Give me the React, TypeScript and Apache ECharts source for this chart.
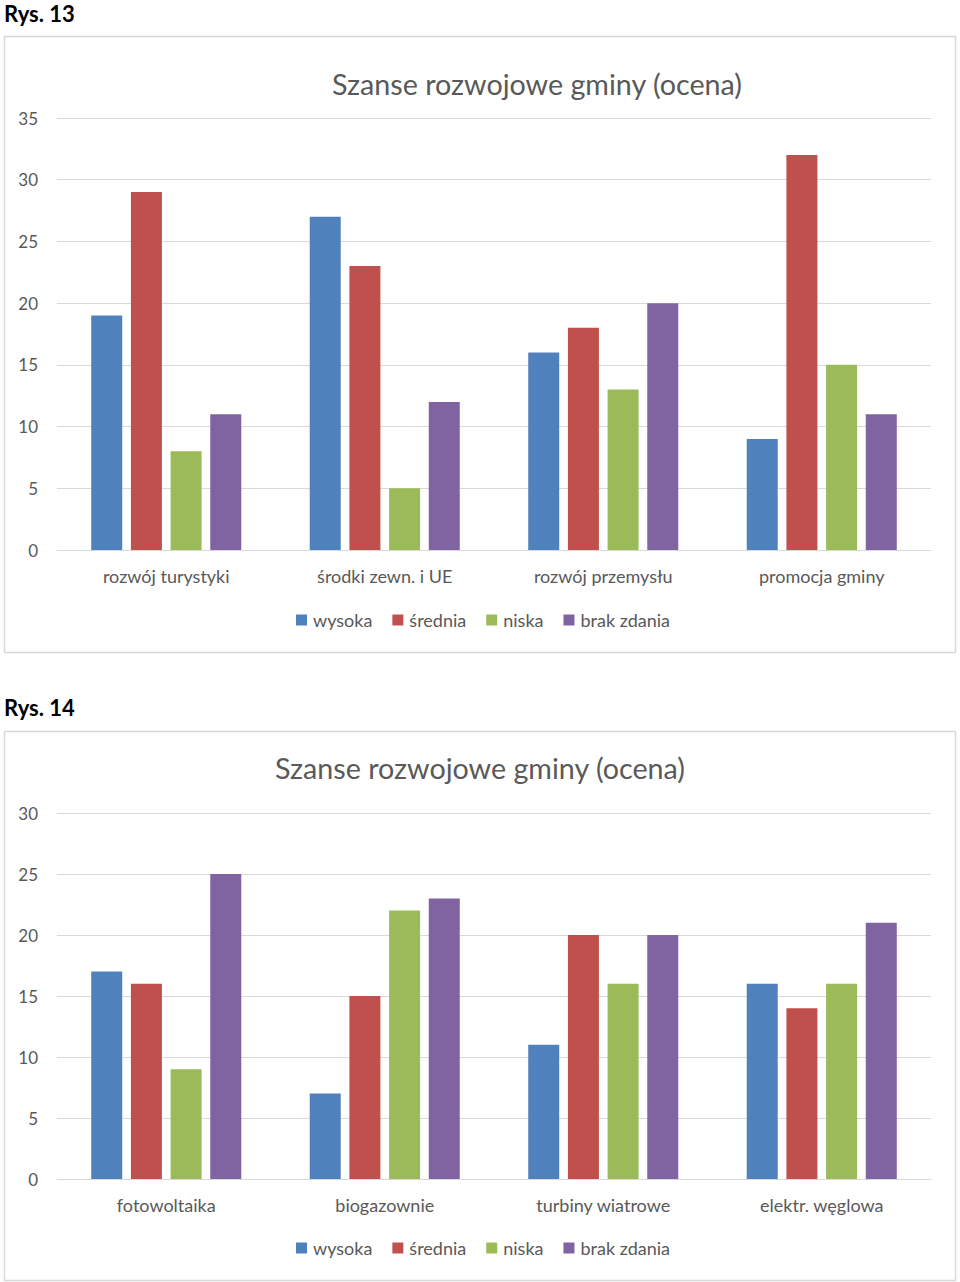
import React, { useEffect, useRef } from "react";
import * as echarts from "echarts";

const seriesNames = ["wysoka", "średnia", "niska", "brak zdania"];
const colors = ["#4F81BD", "#C0504D", "#9BBB59", "#8064A2"];

const categories1 = ["rozwój turystyki", "środki zewn. i UE", "rozwój przemysłu", "promocja gminy"];
const wysoka1 = [19, 27, 16, 9];
const srednia1 = [29, 23, 18, 32];
const niska1 = [8, 5, 13, 15];
const brak1 = [11, 12, 20, 11];

const categories2 = ["fotowoltaika", "biogazownie", "turbiny wiatrowe", "elektr. węglowa"];
const wysoka2 = [17, 7, 11, 16];
const srednia2 = [16, 15, 20, 14];
const niska2 = [9, 22, 16, 16];
const brak2 = [25, 23, 20, 21];

const title = "Szanse rozwojowe gminy (ocena)";
const FONT = "Lato, 'Open Sans', sans-serif";
const GREY = "#595959";

export default function App() {
  const ref = useRef<HTMLDivElement>(null);
  useEffect(() => {
    const chart = echarts.init(ref.current!, null, { renderer: "svg" });
    const data1 = [wysoka1, srednia1, niska1, brak1];
    const data2 = [wysoka2, srednia2, niska2, brak2];
    const mkX = (cats: string[], idx: number) => ({
      type: "category",
      gridIndex: idx,
      data: cats,
      axisLine: { show: true, lineStyle: { color: "#D9D9D9", width: 1 } },
      axisTick: { show: false },
      axisLabel: { color: GREY, fontSize: 18, fontFamily: FONT, margin: 17 },
    });
    const mkY = (max: number, idx: number) => ({
      type: "value",
      gridIndex: idx,
      min: 0,
      max,
      interval: 5,
      axisLine: { show: false },
      axisTick: { show: false },
      splitLine: { lineStyle: { color: "#D9D9D9", width: 1 } },
      axisLabel: { color: GREY, fontSize: 17, fontFamily: FONT, margin: 19 },
    });
    const series: any[] = [];
    data1.forEach((d, i) =>
      series.push({
        type: "bar",
        name: seriesNames[i],
        xAxisIndex: 0,
        yAxisIndex: 0,
        data: d,
        barWidth: 31,
        barGap: "28%",
        itemStyle: { color: colors[i] },
      })
    );
    data2.forEach((d, i) =>
      series.push({
        type: "bar",
        name: seriesNames[i],
        xAxisIndex: 1,
        yAxisIndex: 1,
        data: d,
        barWidth: 31,
        barGap: "28%",
        itemStyle: { color: colors[i] },
      })
    );
    const legendBase = {
      data: seriesNames,
      icon: "rect",
      itemWidth: 11,
      itemHeight: 11,
      itemGap: 20,
      selectedMode: false,
      left: 291,
      textStyle: { color: GREY, fontSize: 18, fontFamily: FONT, padding: [0, 0, 0, 1] },
    };
    chart.setOption({
      animation: false,
      backgroundColor: "#FFFFFF",
      title: [
        {
          text: title,
          left: 532,
          top: 64,
          textAlign: "center",
          textStyle: { color: GREY, fontSize: 28.7, fontWeight: "normal", fontFamily: FONT },
        },
        {
          text: title,
          left: 475,
          top: 748,
          textAlign: "center",
          textStyle: { color: GREY, fontSize: 28.7, fontWeight: "normal", fontFamily: FONT },
        },
      ],
      graphic: [
        {
          type: "text",
          left: 4,
          top: 2,
          style: { text: "Rys. 13", fill: "#000", font: `bold 22px ${FONT}` },
        },
        {
          type: "text",
          left: 4,
          top: 696,
          style: { text: "Rys. 14", fill: "#000", font: `bold 22px ${FONT}` },
        },
        {
          type: "rect",
          shape: { x: 4.5, y: 36.5, width: 951, height: 616 },
          style: { fill: "none", stroke: "#D9D9D9", lineWidth: 1.5 },
          z: -1,
        },
        {
          type: "rect",
          shape: { x: 4.5, y: 731.5, width: 951, height: 549 },
          style: { fill: "none", stroke: "#D9D9D9", lineWidth: 1.5 },
          z: -1,
        },
      ],
      legend: [
        { ...legendBase, top: 606 },
        { ...legendBase, top: 1234 },
      ],
      grid: [
        { left: 57, top: 118, width: 874, height: 432 },
        { left: 57, top: 813, width: 874, height: 366 },
      ],
      xAxis: [mkX(categories1, 0), mkX(categories2, 1)],
      yAxis: [mkY(35, 0), mkY(30, 1)],
      series,
    });
    return () => chart.dispose();
  }, []);
  return (
    <div style={{ position: "absolute", left: 0, top: 0, width: 960, height: 1282, background: "#fff" }}>
      <div ref={ref} style={{ width: 960, height: 1282 }} />
    </div>
  );
}
